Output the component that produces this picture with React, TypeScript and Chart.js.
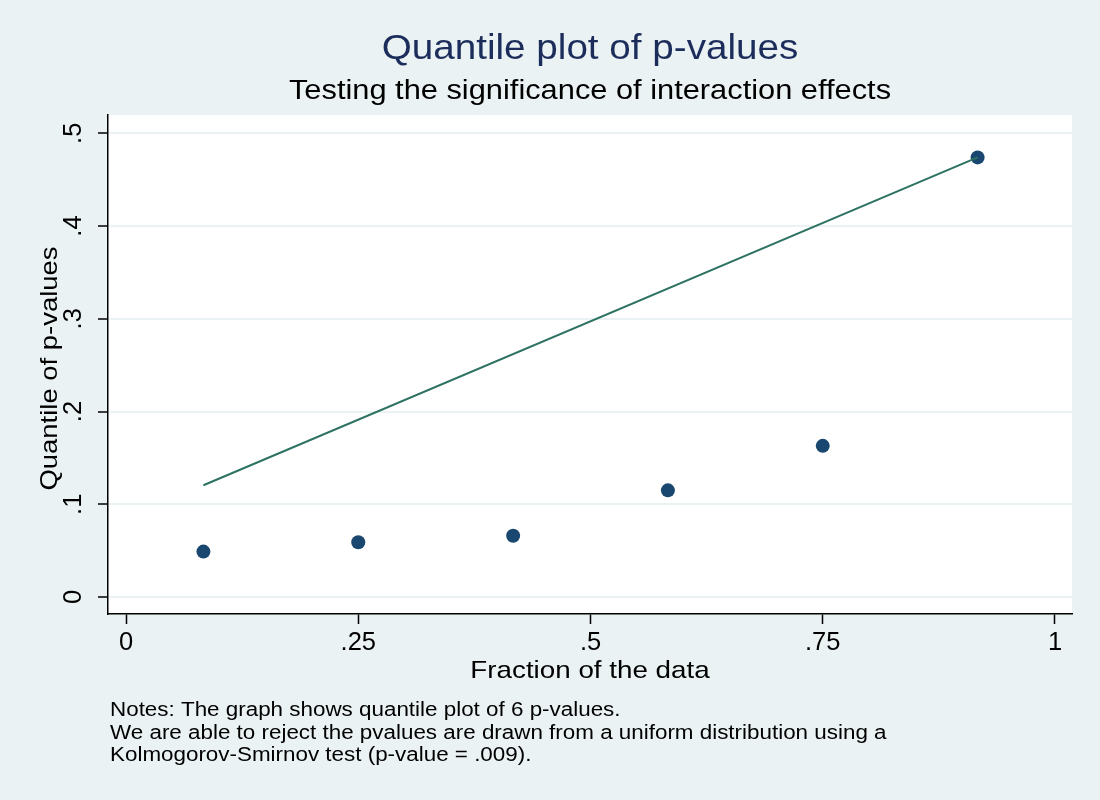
import React, { useEffect, useRef } from "react";
import { Chart, registerables } from "chart.js";

Chart.register(...registerables);

// ---- data ----
const fractionOfData = [0.0833, 0.25, 0.4167, 0.5833, 0.75, 0.9167];
const pValueQuantiles = [0.049, 0.059, 0.066, 0.115, 0.163, 0.474];
const refLineX = [0.0833, 0.9167];
const refLineY = [0.1205, 0.474];
const xTickValues = [0, 0.25, 0.5, 0.75, 1];
const yTickValues = [0, 0.1, 0.2, 0.3, 0.4, 0.5];

const titleText = "Quantile plot of p-values";
const subtitleText = "Testing the significance of interaction effects";
const xAxisTitle = "Fraction of the data";
const yAxisTitle = "Quantile of p-values";
const noteLines = [
  "Notes: The graph shows quantile plot of 6 p-values.",
  "We are able to reject the pvalues are drawn from a uniform distribution using a",
  "Kolmogorov-Smirnov test (p-value = .009).",
];

const FONT = "'Liberation Sans', Arial, Helvetica, sans-serif";
const BG = "#EAF2F3";
const SX = 1.12;

const fmt = (v: number) => {
  if (v === 0) return "0";
  if (v === 1) return "1";
  return String(Number(v.toFixed(2))).replace(/^0\./, ".");
};

function stretchedText(
  ctx: CanvasRenderingContext2D,
  text: string,
  x: number,
  y: number,
  size: number,
  color: string,
  align: CanvasTextAlign,
  rotate = 0
) {
  ctx.save();
  ctx.translate(x, y);
  if (rotate) ctx.rotate(rotate);
  ctx.scale(SX, 1);
  ctx.font = `${size}px ${FONT}`;
  ctx.fillStyle = color;
  ctx.textAlign = align;
  ctx.textBaseline = "alphabetic";
  ctx.fillText(text, 0, 0);
  ctx.restore();
}

const decorPlugin = {
  id: "stataDecor",
  beforeDraw(chart: any) {
    const { ctx, chartArea: a } = chart;
    ctx.save();
    ctx.fillStyle = BG;
    ctx.fillRect(0, 0, chart.width, chart.height);
    ctx.fillStyle = "#ffffff";
    ctx.fillRect(a.left, a.top, a.right - a.left, a.bottom - a.top);
    ctx.restore();
  },
  afterDraw(chart: any) {
    const { ctx, chartArea: a } = chart;
    const cx = (a.left + a.right) / 2;
    const cy = (a.top + a.bottom) / 2;
    stretchedText(ctx, titleText, cx, 59, 34.5, "#1c2d5b", "center");
    stretchedText(ctx, subtitleText, cx, 99, 27.5, "#000000", "center");
    stretchedText(ctx, xAxisTitle, cx, 678, 24.8, "#000000", "center");
    stretchedText(ctx, yAxisTitle, 57, cy + 4, 24.5, "#000000", "center", -Math.PI / 2);
    const baselines = [716, 738.5, 761];
    noteLines.forEach((t, i) => stretchedText(ctx, t, 110, baselines[i], 20, "#000000", "left"));
  },
};

export default function App() {
  const ref = useRef<HTMLCanvasElement | null>(null);
  useEffect(() => {
    if (!ref.current) return;
    const chart = new Chart(ref.current, {
      type: "scatter",
      data: {
        datasets: [
          {
            type: "line",
            label: "reference",
            data: refLineX.map((x, i) => ({ x, y: refLineY[i] })),
            borderColor: "#2d7262",
            borderWidth: 2,
            pointRadius: 0,
            fill: false,
            order: 0,
          },
          {
            type: "scatter",
            label: "p-values",
            data: fractionOfData.map((x, i) => ({ x, y: pValueQuantiles[i] })),
            backgroundColor: "#1a476f",
            borderColor: "#1a476f",
            borderWidth: 0,
            pointRadius: 7,
            order: 1,
          },
        ],
      },
      options: {
        responsive: false,
        animation: false,
        layout: { padding: { top: 115, left: 0, right: 28, bottom: 0 } },
        plugins: {
          legend: { display: false },
          title: { display: false },
          tooltip: { enabled: false },
        },
        scales: {
          x: {
            type: "linear",
            min: -0.0194,
            max: 1.0183,
            afterBuildTicks: (s: any) => {
              s.ticks = xTickValues.map((value) => ({ value }));
            },
            afterFit: (s: any) => {
              s.height = 186;
            },
            grid: {
              drawOnChartArea: false,
              drawTicks: true,
              tickLength: 10,
              tickColor: "#000000",
              tickWidth: 1.5,
            },
            border: { display: true, color: "#000000", width: 1.5 },
            ticks: {
              autoSkip: false,
              maxRotation: 0,
              padding: 4,
              color: "#000000",
              font: { family: FONT, size: 25.5 },
              callback: (v: any) => fmt(Number(v)),
            },
          },
          y: {
            type: "linear",
            min: -0.0183,
            max: 0.5197,
            afterBuildTicks: (s: any) => {
              s.ticks = yTickValues.map((value) => ({ value }));
            },
            afterFit: (s: any) => {
              s.width = 108;
            },
            grid: {
              drawOnChartArea: true,
              color: BG,
              lineWidth: 2,
              drawTicks: true,
              tickLength: 10,
              tickColor: "#000000",
              tickWidth: 1.5,
            },
            border: { display: true, color: "#000000", width: 1.5 },
            ticks: {
              autoSkip: false,
              minRotation: 90,
              maxRotation: 90,
              crossAlign: "center",
              padding: 13,
              color: "#000000",
              font: { family: FONT, size: 25.5 },
              callback: (v: any) => fmt(Number(v)),
            },
          },
        },
      },
      plugins: [decorPlugin],
    } as any);
    return () => chart.destroy();
  }, []);
  return (
    <div style={{ position: "fixed", left: 0, top: 0, width: 1100, height: 800, background: BG }}>
      <canvas ref={ref} width={1100} height={800} style={{ display: "block", width: 1100, height: 800 }} />
    </div>
  );
}
